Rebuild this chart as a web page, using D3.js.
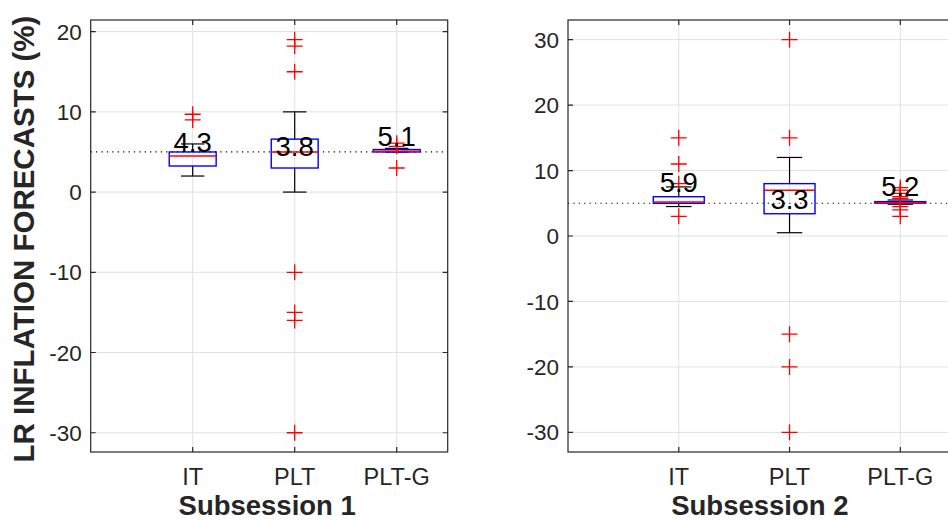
<!DOCTYPE html>
<html>
<head>
<meta charset="utf-8">
<script src="https://cdn.jsdelivr.net/npm/d3@7"></script>
<style>
  html, body { margin: 0; padding: 0; background: #fff; }
  svg { display: block; font-family: "Liberation Sans", Arial, sans-serif; }
</style>
</head>
<body>
<svg></svg>
<script>
const width = 948;
const height = 522;

// data
const groups = ["IT", "PLT", "PLT-G"];
const sessionTitles = ["Subsession 1", "Subsession 2"];
const target = 5;

const s1Ticks = [-30, -20, -10, 0, 10, 20];
const s1Q1 = [3.25, 3.0, 5.0];
const s1Median = [4.5, 5.0, 5.1];
const s1Q3 = [5.0, 6.6, 5.3];
const s1WhiskerLow = [2, 0, 5.0];
const s1WhiskerHigh = [6, 10, 5.45];
const s1Outliers = [[9.7, 9.0], [19, 18.2, 15, -10, -15, -16, -30], [6.1, 5.7, 3]];
const s1Means = [4.3, 3.8, 5.1];

const s2Ticks = [-30, -20, -10, 0, 10, 20, 30];
const s2Q1 = [5.0, 3.4, 5.0];
const s2Median = [5.2, 7.0, 5.05];
const s2Q3 = [6.0, 8.0, 5.25];
const s2WhiskerLow = [4.5, 0.5, 4.85];
const s2WhiskerHigh = [7.5, 12, 5.5];
const s2Outliers = [[15, 11, 8, 3], [30, 15, -15, -20, -30], [7.4, 7, 6.5, 6, 5.7, 4.5, 4, 3]];
const s2Means = [5.9, 3.3, 5.2];

const svg = d3.select("svg")
    .attr("width", width)
    .attr("height", height);

const panels = [
    {
        left: 90.7, right: 447.7, top: 20, bottom: 452, yDomain: [-32.4, 21.45],
        ticks: s1Ticks, q1: s1Q1, med: s1Median, q3: s1Q3,
        wLo: s1WhiskerLow, wHi: s1WhiskerHigh, out: s1Outliers, means: s1Means,
        title: sessionTitles[0], yLabel: true
    },
    {
        left: 568, right: 955.7, top: 20, bottom: 452, yDomain: [-33, 33],
        ticks: s2Ticks, q1: s2Q1, med: s2Median, q3: s2Q3,
        wLo: s2WhiskerLow, wHi: s2WhiskerHigh, out: s2Outliers, means: s2Means,
        title: sessionTitles[1], yLabel: false
    }
];

const axisColor = "#262626";
const gridColor = "#e0e0e0";
const boxWidth = 0.46;

let drawPanel = (p) => {
    const g = svg.append("g");
    const x = d3.scaleLinear().domain([0, 3.5]).range([p.left, p.right]);
    const y = d3.scaleLinear().domain(p.yDomain).range([p.bottom, p.top]);
    const xPos = (i) => x(i + 1);

    // grid
    g.selectAll(".gy").data(p.ticks).join("line")
        .attr("x1", p.left).attr("x2", p.right)
        .attr("y1", d => y(d)).attr("y2", d => y(d))
        .attr("stroke", gridColor).attr("stroke-width", 1);
    g.selectAll(".gx").data(groups).join("line")
        .attr("x1", (d, i) => xPos(i)).attr("x2", (d, i) => xPos(i))
        .attr("y1", p.top).attr("y2", p.bottom)
        .attr("stroke", gridColor).attr("stroke-width", 1);

    // target line
    g.append("line")
        .attr("x1", p.left).attr("x2", p.right)
        .attr("y1", y(target)).attr("y2", y(target))
        .attr("stroke", "#000").attr("stroke-width", 1.2)
        .attr("stroke-dasharray", "1.2,4.2");

    const bw = x(boxWidth) - x(0);
    const cw = bw / 2;

    groups.forEach((name, i) => {
        const cx = xPos(i);
        // whiskers
        g.append("line")
            .attr("x1", cx).attr("x2", cx)
            .attr("y1", y(p.q3[i])).attr("y2", y(p.wHi[i]))
            .attr("stroke", "#000").attr("stroke-width", 1.2);
        g.append("line")
            .attr("x1", cx).attr("x2", cx)
            .attr("y1", y(p.q1[i])).attr("y2", y(p.wLo[i]))
            .attr("stroke", "#000").attr("stroke-width", 1.2);
        [p.wHi[i], p.wLo[i]].forEach(v => {
            g.append("line")
                .attr("x1", cx - cw / 2).attr("x2", cx + cw / 2)
                .attr("y1", y(v)).attr("y2", y(v))
                .attr("stroke", "#000").attr("stroke-width", 1.2);
        });
        // box
        g.append("rect")
            .attr("x", cx - bw / 2).attr("width", bw)
            .attr("y", y(p.q3[i])).attr("height", Math.max(1, y(p.q1[i]) - y(p.q3[i])))
            .attr("fill", "none").attr("stroke", "#0000ff").attr("stroke-width", 1.4);
        g.append("line")
            .attr("x1", cx - bw / 2).attr("x2", cx + bw / 2)
            .attr("y1", y(p.med[i])).attr("y2", y(p.med[i]))
            .attr("stroke", "#ff0000").attr("stroke-width", 1.4);
        // outliers
        const s = 8;
        p.out[i].forEach(v => {
            g.append("path")
                .attr("d", `M${cx - s},${y(v)}H${cx + s}M${cx},${y(v) - s}V${y(v) + s}`)
                .attr("stroke", "#ff0000").attr("stroke-width", 1.3).attr("fill", "none");
        });
        // mean label
        g.append("text")
            .attr("x", cx).attr("y", y(p.means[i]) - 5.5)
            .attr("text-anchor", "middle")
            .attr("font-size", 27.5)
            .attr("fill", "#000")
            .text(p.means[i].toFixed(1));
    });

    // axis box and ticks
    g.append("rect")
        .attr("x", p.left).attr("y", p.top)
        .attr("width", p.right - p.left).attr("height", p.bottom - p.top)
        .attr("fill", "none").attr("stroke", axisColor).attr("stroke-width", 1.2);
    const tl = 5;
    p.ticks.forEach(t => {
        g.append("path")
            .attr("d", `M${p.left},${y(t)}h${tl}M${p.right},${y(t)}h${-tl}`)
            .attr("stroke", axisColor).attr("stroke-width", 1.2);
    });
    groups.forEach((name, i) => {
        g.append("path")
            .attr("d", `M${xPos(i)},${p.bottom}v${-tl}M${xPos(i)},${p.top}v${tl}`)
            .attr("stroke", axisColor).attr("stroke-width", 1.2);
    });

    // tick labels
    g.selectAll(".yl").data(p.ticks).join("text")
        .attr("x", p.left - 9).attr("y", d => y(d))
        .attr("dy", "0.36em")
        .attr("text-anchor", "end")
        .attr("font-size", 22.5)
        .attr("fill", axisColor)
        .text(d => d);
    g.selectAll(".xl").data(groups).join("text")
        .attr("x", (d, i) => xPos(i)).attr("y", 485)
        .attr("text-anchor", "middle")
        .attr("font-size", 23.5)
        .attr("fill", axisColor)
        .text(d => d);

    g.append("text")
        .attr("x", (p.left + p.right) / 2 - 2).attr("y", 515)
        .attr("text-anchor", "middle")
        .attr("font-size", 27.5).attr("font-weight", "bold")
        .attr("fill", axisColor)
        .text(p.title);

    if (p.yLabel) {
        g.append("text")
            .attr("transform", `translate(34,${(p.top + p.bottom) / 2 + 3}) rotate(-90)`)
            .attr("text-anchor", "middle")
            .attr("font-size", 29.5).attr("font-weight", "bold")
            .attr("fill", axisColor)
            .text("LR INFLATION FORECASTS (%)");
    }
};

panels.forEach(drawPanel);
</script>
</body>
</html>
